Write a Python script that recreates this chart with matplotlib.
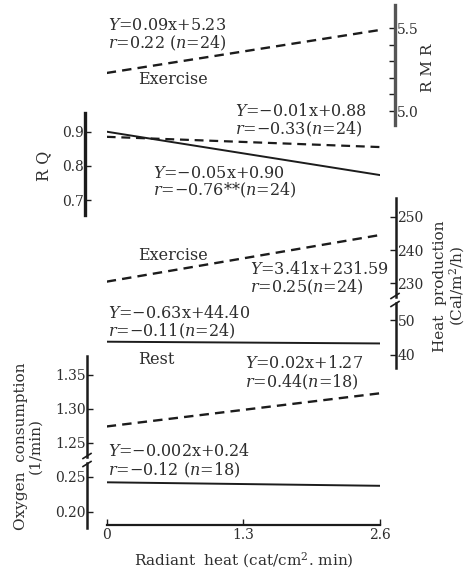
import matplotlib
matplotlib.use("Agg")
import matplotlib.pyplot as plt
from matplotlib.lines import Line2D
from matplotlib.ticker import FixedLocator, NullFormatter


# =========================
# DATA
# =========================
radiant_heat = [0.0, 2.6]
x_ticks = [0, 1.3, 2.6]
x_tick_labels = ["0", "1.3", "2.6"]

rmr_exercise = [5.23, 5.49]
rq_exercise = [0.885, 0.855]
rq_rest = [0.90, 0.773]
heat_exercise = [230.5, 244.5]
heat_rest = [43.8, 43.3]
o2_exercise = [1.274, 1.323]
o2_rest = [0.242, 0.237]

rmr_ticks = [5.0, 5.5]
rmr_minor = [5.1, 5.2, 5.3, 5.4]
rq_ticks = [0.7, 0.8, 0.9]
heat_hi_ticks = [230, 240, 250]
heat_lo_ticks = [40, 50]
o2_hi_ticks = [1.25, 1.30, 1.35]
o2_lo_ticks = [0.20, 0.25]


# =========================
# LAYOUT (pixels of the 475x577 figure)
# =========================
W, H = 475, 577
X0_PX, X1_PX = 106.7, 380.0          # where x = 0 and x = 2.6 sit
INK = "#1c1c1c"
TXT = "#2e2e2e"

plt.rcParams["font.family"] = ["DejaVu Serif"]
plt.rcParams["mathtext.fontset"] = "dejavuserif"

fig = plt.figure(figsize=(W / 100, H / 100), dpi=100)


def make_panel(top_px, bot_px, cal, side, spine_px, spine_lw=1.8, spine_color=INK):
    """Transparent axes with a single floating y spine, calibrated from two ticks."""
    (p1, v1), (p2, v2) = cal
    slope = (v2 - v1) / (p2 - p1)
    v_top = v1 + slope * (top_px - p1)
    v_bot = v1 + slope * (bot_px - p1)

    ax = fig.add_axes([X0_PX / W, 1 - bot_px / H, (X1_PX - X0_PX) / W, (bot_px - top_px) / H])
    ax.patch.set_alpha(0)
    ax.set_xlim(0, 2.6)
    ax.set_ylim(v_bot, v_top)
    ax.xaxis.set_visible(False)
    for name, sp in ax.spines.items():
        sp.set_visible(name == side)
    sp = ax.spines[side]
    offset = (X0_PX - spine_px) if side == "left" else (spine_px - X1_PX)
    sp.set_position(("outward", offset * 0.72))
    sp.set_linewidth(spine_lw)
    sp.set_color(spine_color)
    if side == "right":
        ax.yaxis.tick_right()
    ax.tick_params(axis="y", which="both", direction="in", length=4, width=1,
                   labelsize=10, pad=1, colors=INK, labelcolor=TXT)
    return ax


dash = (0, (4.0, 2.6))

# RMR
ax_rmr = make_panel(5, 125, ((111.0, 5.0), (28.3, 5.5)), "right", 395, 2.4, "#555555")
ax_rmr.plot(radiant_heat, rmr_exercise, color=INK, lw=1.7, linestyle=dash)
ax_rmr.yaxis.set_major_locator(FixedLocator(rmr_ticks))
ax_rmr.yaxis.set_minor_locator(FixedLocator(rmr_minor))
ax_rmr.yaxis.set_minor_formatter(NullFormatter())
ax_rmr.set_yticklabels(["5.0", "5.5"])

# RQ
ax_rq = make_panel(113, 215, ((131.7, 0.9), (200.0, 0.7)), "left", 85, 2.4)
ax_rq.plot(radiant_heat, rq_exercise, color=INK, lw=1.6, linestyle=dash)
ax_rq.plot(radiant_heat, rq_rest, color=INK, lw=1.4)
ax_rq.set_yticks(rq_ticks)
ax_rq.set_yticklabels(["0.7", "0.8", "0.9"])

# Heat production (broken axis)
ax_hh = make_panel(198, 297, ((216.7, 250), (283.3, 230)), "right", 396)
ax_hh.plot(radiant_heat, heat_exercise, color=INK, lw=1.7, linestyle=dash)
ax_hh.set_yticks(heat_hi_ticks)
ax_hh.set_yticklabels(["230", "240", "250"])

ax_hl = make_panel(303, 368, ((320.0, 50), (355.0, 40)), "right", 396)
ax_hl.plot(radiant_heat, heat_rest, color=INK, lw=1.4)
ax_hl.set_yticks(heat_lo_ticks)
ax_hl.set_yticklabels(["40", "50"])

# Oxygen consumption (broken axis)
ax_oh = make_panel(356, 457, ((375.0, 1.35), (442.7, 1.25)), "left", 87)
ax_oh.plot(radiant_heat, o2_exercise, color=INK, lw=1.7, linestyle=dash)
ax_oh.set_yticks(o2_hi_ticks)
ax_oh.set_yticklabels(["1.25", "1.30", "1.35"])

ax_ol = make_panel(463, 528, ((476.7, 0.25), (511.7, 0.20)), "left", 87)
ax_ol.plot(radiant_heat, o2_rest, color=INK, lw=1.4)
ax_ol.set_yticks(o2_lo_ticks)
ax_ol.set_yticklabels(["0.20", "0.25"])

# Shared x axis at the bottom
ax_x = fig.add_axes([X0_PX / W, 1 - 525 / H, (X1_PX - X0_PX) / W, 0.001])
ax_x.patch.set_alpha(0)
ax_x.set_xlim(0, 2.6)
ax_x.yaxis.set_visible(False)
for name, sp in ax_x.spines.items():
    sp.set_visible(name == "bottom")
ax_x.spines["bottom"].set_linewidth(1.6)
ax_x.spines["bottom"].set_color(INK)
ax_x.set_xticks(x_ticks)
ax_x.set_xticklabels(x_tick_labels)
ax_x.tick_params(axis="x", direction="in", length=4, width=1, labelsize=10,
                 pad=2, colors=INK, labelcolor=TXT)
ax_x.set_xlabel("Radiant  heat (cat/cm$^2$. min)", fontsize=11, color=TXT, labelpad=6)

# Break marks
for (bx, by) in [(395, 296), (395, 304), (87, 456), (87, 464)]:
    fig.add_artist(Line2D([(bx - 4) / W, (bx + 4) / W],
                          [1 - (by + 2.5) / H, 1 - (by - 2.5) / H],
                          transform=fig.transFigure, color=INK, lw=1.2))


# =========================
# TEXT
# =========================
def put(px, py, s, **kw):
    kw.setdefault("fontsize", 11.5)
    fig.text(px / W, 1 - py / H, s, ha="left", va="center", color=TXT, **kw)


put(108, 25, "$Y$=0.09x+5.23")
put(108, 43, "$r$=0.22 ($n$=24)")
put(138, 79, "Exercise")
put(235, 112, "$Y$=−0.01x+0.88")
put(235, 129, "$r$=−0.33($n$=24)")
put(153, 173, "$Y$=−0.05x+0.90")
put(153, 190, "$r$=−0.76**($n$=24)")
put(138, 256, "Exercise")
put(250, 269, "$Y$=3.41x+231.59")
put(250, 287, "$r$=0.25($n$=24)")
put(108, 313, "$Y$=−0.63x+44.40")
put(108, 331, "$r$=−0.11($n$=24)")
put(138, 359, "Rest")
put(245, 363, "$Y$=0.02x+1.27")
put(245, 382, "$r$=0.44($n$=18)")
put(108, 452, "$Y$=−0.002x+0.24")
put(108, 470, "$r$=−0.12 ($n$=18)")

# Axis titles
fig.text(428 / W, 1 - 68 / H, "R M R", rotation=90, ha="center", va="center",
         fontsize=11, color=TXT)
fig.text(44 / W, 1 - 166 / H, "R Q", rotation=90, ha="center", va="center",
         fontsize=11.5, color=TXT)
fig.text(450 / W, 1 - 286 / H, "Heat  production\n(Cal/m$^2$/h)", rotation=90,
         ha="center", va="center", fontsize=11, color=TXT, linespacing=1.0)
fig.text(28 / W, 1 - 446 / H, "Oxygen  consumption\n(1/min)", rotation=90,
         ha="center", va="center", fontsize=11, color=TXT, linespacing=1.0)

fig.savefig("out.png", dpi=100)
